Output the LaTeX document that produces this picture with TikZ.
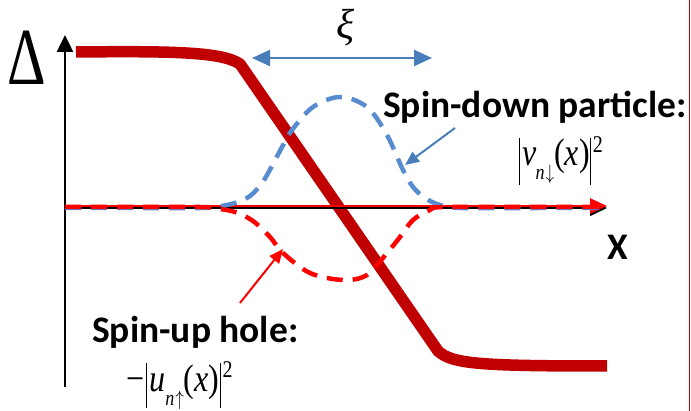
\documentclass[tikz,border=0pt]{standalone}
\usepackage{fontspec}
\setmainfont{Liberation Serif}
\newfontfamily\calib{Carlito}
\usetikzlibrary{arrows.meta}
\definecolor{deltared}{RGB}{192,0,0}
\definecolor{holered}{RGB}{255,0,0}
\definecolor{partblue}{RGB}{88,140,208}
\definecolor{arrblue}{RGB}{74,126,187}
\newcommand{\absbar}[2]{\vrule height #1 depth #2 width 1.1pt}
\begin{document}
\begin{tikzpicture}[x=1pt,y=-1pt,
  lbl/.style={font={\calib\bfseries\fontsize{37.5}{42}\selectfont}, inner sep=0pt, anchor=base west},
  frm/.style={font={\fontsize{32}{36}\selectfont}, inner sep=0pt, anchor=base west},
  axisline/.style={black, line width=2.5pt},
  deltacurve/.style={deltared, line width=11.5pt, line join=round},
  dashcurve/.style={line width=4.5pt, dash pattern=on 16pt off 10pt},
  pointer/.style={line width=2pt, -{Triangle[length=14pt,width=12pt]}}]
\useasboundingbox (0,0) rectangle (691,411);
% right edge line
\draw[deltared, line width=1.5pt] (689.5,0) -- (689.5,411);
% Delta curve
\draw[deltacurve] (76,52) .. controls (175,51) and (222,52) .. (240,64)
  -- (438,351) .. controls (452,364) and (480,366) .. (607,366);
% axes
\coordinate (yb) at (65,387);
\coordinate (yt) at (65,35);
\coordinate (xl) at (65,208);
\coordinate (xr) at (607,208);
\coordinate (xrr) at (607,206);
\draw[axisline, -{Triangle[length=17pt,width=16pt]}] (yb) -- (yt);
\draw[black, line width=1.5pt, -{Triangle[length=17pt,width=16pt]}] (xl) -- (xr);
\draw[holered, line width=2.5pt, -{Triangle[length=17pt,width=15pt]}] (65,206) -- (xrr);
% particle curve
\draw[dashcurve, partblue] plot[smooth, tension=0.55] coordinates {(65,208) (140,208) (200,208) (215,207) (235,203) (250,196) (262,183) (272,166) (281,149) (292,130) (313,107) (340,97) (367,107) (387,135) (403,170) (413,187) (425,198) (440,205) (460,208) (540,208) (605,208)};
% hole curve
\draw[dashcurve, holered] plot[smooth, tension=0.55] coordinates {(65,207) (140,207) (200,207) (213,208) (235,212) (253,221) (270,237) (283,253) (310,273) (343,280) (367,275) (387,253) (400,237) (413,220) (430,210) (445,207) (540,207) (600,207)};
% labels
\node[inner sep=0pt] (delta) at (27,58) {\scalebox{1}[1.35]{\fontsize{60}{60}\selectfont Δ}};
\node[inner sep=0pt] (xi) at (345,28) {\fontsize{42}{42}\selectfont\itshape ξ};
\node[lbl] (xlab) at (607,260) {X};
\node[lbl] (down) at (383,118) {Spin-down particle:};
\node[lbl] (up) at (92,343) {Spin-up hole:};
\node[frm] (vform) at (519,166) {\scalebox{1}[1.2]{\absbar{23.5pt}{15.5pt}\kern2pt\textit{v}\kern-1pt\raisebox{-11pt}{\fontsize{18}{18}\selectfont\textit{n}\kern1pt$\downarrow$}\kern0pt(\textit{x})\absbar{23.5pt}{15.5pt}\kern2pt\raisebox{11.5pt}{\fontsize{20}{20}\selectfont 2}}};
\node[frm] (uform) at (126,392) {\scalebox{1}[1.2]{−\kern2pt\absbar{24pt}{13.5pt}\kern2pt\textit{u}\raisebox{-11.5pt}{\fontsize{18}{18}\selectfont\textit{n}\kern1pt$\uparrow$}\kern0pt(\textit{x})\absbar{24pt}{13.5pt}\kern2pt\raisebox{12.5pt}{\fontsize{20}{20}\selectfont 2}}};
% xi double arrow
\coordinate (xia) at (252,58);
\coordinate (xib) at (432,58);
\draw[arrblue, line width=2.5pt, {Triangle[length=18pt,width=16pt]}-{Triangle[length=18pt,width=16pt]}] (xia) -- (xib);
% pointers
\coordinate (bp1) at (455,128);
\coordinate (bp2) at (405,165);
\draw[pointer, arrblue] (bp1) -- (bp2);
\coordinate (rp1) at (240,303);
\coordinate (rp2) at (283,249);
\draw[pointer, holered] (rp1) -- (rp2);
\end{tikzpicture}
\end{document}
